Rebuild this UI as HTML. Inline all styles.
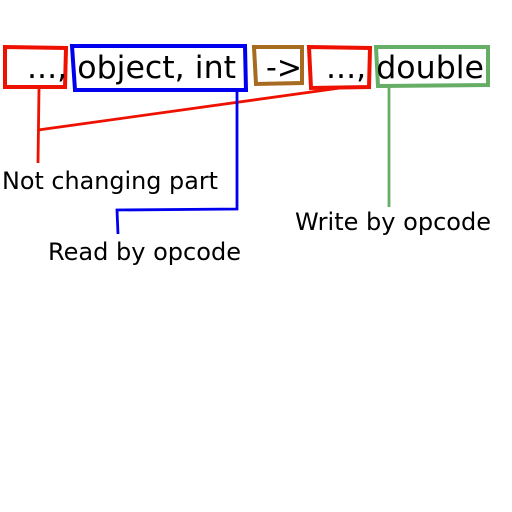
<!DOCTYPE html>
<html><head><style>body{margin:0;background:#fff}svg{display:block}</style></head><body>
<svg width="512" height="512" viewBox="0 0 512 512" xmlns="http://www.w3.org/2000/svg" font-family="DejaVu Sans, Liberation Sans, sans-serif">
<rect width="512" height="512" fill="#fff"/>
<g fill="none" stroke-width="4" stroke-linejoin="miter">
<polygon points="5,47 66,48 65,87 5,87" stroke="#ee1100"/>
<polygon points="72,46 245,46 246,90 75,90" stroke="#0000ee"/>
<polygon points="254,47 302,47 302,83 256,84" stroke="#a66a20"/>
<polygon points="309,47 370,48 369,87 311,88" stroke="#ee1100"/>
<polygon points="376,47 488,47 488,85 378,86" stroke="#66ad66"/>
</g>
<g fill="none" stroke-width="2.8">
<polyline points="39,88 38,163" stroke="#ee1100"/>
<polyline points="38,130 340,88" stroke="#ee1100"/>
<polyline points="237,91 237,209 117,210 118,234" stroke="#0000ee"/>
<polyline points="389,87 389,207" stroke="#66ad66"/>
</g>
<g fill="#000" font-size="31">
<text x="27" y="78" textLength="209" lengthAdjust="spacingAndGlyphs">..., object, int</text>
<text x="266" y="78" textLength="36" lengthAdjust="spacingAndGlyphs">-&gt;</text>
<text x="326" y="78" textLength="158" lengthAdjust="spacingAndGlyphs">..., double</text>
</g>
<g fill="#000" font-size="24">
<text x="2" y="189" textLength="216" lengthAdjust="spacingAndGlyphs">Not changing part</text>
<text x="48" y="260" textLength="193" lengthAdjust="spacingAndGlyphs">Read by opcode</text>
<text x="295" y="230" textLength="196" lengthAdjust="spacingAndGlyphs">Write by opcode</text>
</g>
</svg>
</body></html>
